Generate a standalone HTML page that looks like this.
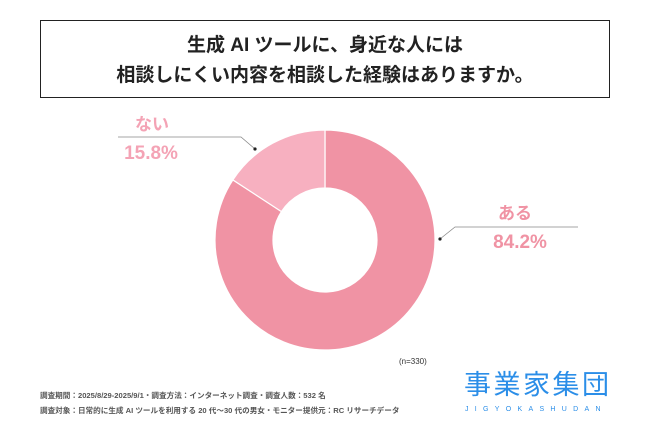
<!DOCTYPE html>
<html><head><meta charset="utf-8"><style>
body{margin:0;width:650px;height:434px;background:#fff;overflow:hidden;position:relative;font-family:"Liberation Sans","Noto Sans CJK JP",sans-serif}
.t{position:absolute;white-space:nowrap}
</style></head><body>
<div style="position:absolute;left:40px;top:20px;width:568px;height:76px;border:1.5px solid #222;"></div>
<div class="t" style="left:40px;width:570px;top:31px;text-align:center;font-size:19px;font-weight:bold;line-height:30px;color:#222">生成 AI ツールに、身近な人には<br>相談しにくい内容を相談した経験はありますか。</div>
<svg width="650" height="434" style="position:absolute;left:0;top:0">
<g id="g"></g>
<polyline points="118,137 241,137 255,149" fill="none" stroke="#888" stroke-width="0.8"/>
<circle cx="255" cy="149" r="1.6" fill="#222"/>
<polyline points="440,239 455,227 578,227" fill="none" stroke="#888" stroke-width="0.8"/>
<circle cx="440" cy="239" r="1.6" fill="#222"/>
</svg>
<div class="t" style="left:102px;width:100px;text-align:center;top:110px;font-size:17px;font-weight:bold;color:#f4a3b5">ない</div>
<div class="t" style="left:96px;width:110px;text-align:center;top:143px;font-size:19px;font-weight:bold;color:#f4a3b5">15.8%</div>
<div class="t" style="left:465px;width:100px;text-align:center;top:199px;font-size:17px;font-weight:bold;color:#f093a4">ある</div>
<div class="t" style="left:465px;width:110px;text-align:center;top:232px;font-size:19px;font-weight:bold;color:#f093a4">84.2%</div>
<div class="t" style="left:399px;top:357px;font-size:8px;color:#333">(n=330)</div>
<div class="t" style="left:40px;top:390px;font-size:7.6px;color:#555;font-weight:bold">調査期間：2025/8/29-2025/9/1・調査方法：インターネット調査・調査人数：532 名</div>
<div class="t" style="left:40px;top:405px;font-size:7.6px;color:#555;font-weight:bold">調査対象：日常的に生成 AI ツールを利用する 20 代〜30 代の男女・モニター提供元：RC リサーチデータ</div>
<div class="t" style="left:464px;top:369px;width:150px;font-size:27px;line-height:32px;color:#2b8ee8;letter-spacing:2.5px">事業家集団</div>
<div class="t" style="left:465px;top:406px;font-size:7px;color:#2b8ee8;letter-spacing:6.3px">JIGYOKASHUDAN</div>
<script>
const categories=["ある","ない"];
const values=[84.2,15.8];
const colors=["#f093a4","#f7b0c0"];
const cx=325,cy=240,R=110,r=52;
const g=document.getElementById('g');
let a0=0;const tot=values.reduce((s,v)=>s+v,0);
function pt(a,rad){return [cx+rad*Math.sin(a),cy-rad*Math.cos(a)];}
values.forEach((v,i)=>{
 const a1=a0+v/tot*2*Math.PI;const lg=(a1-a0)>Math.PI?1:0;
 const p1=pt(a0,R),p2=pt(a1,R),p3=pt(a1,r),p4=pt(a0,r);
 const p=document.createElementNS('http://www.w3.org/2000/svg','path');
 p.setAttribute('d',`M${p1}A${R},${R} 0 ${lg} 1 ${p2}L${p3}A${r},${r} 0 ${lg} 0 ${p4}Z`);
 p.setAttribute('fill',colors[i]);p.setAttribute('stroke','#fff');p.setAttribute('stroke-width','1.2');
 
 
 g.appendChild(p);a0=a1;
});
</script>
</body></html>
